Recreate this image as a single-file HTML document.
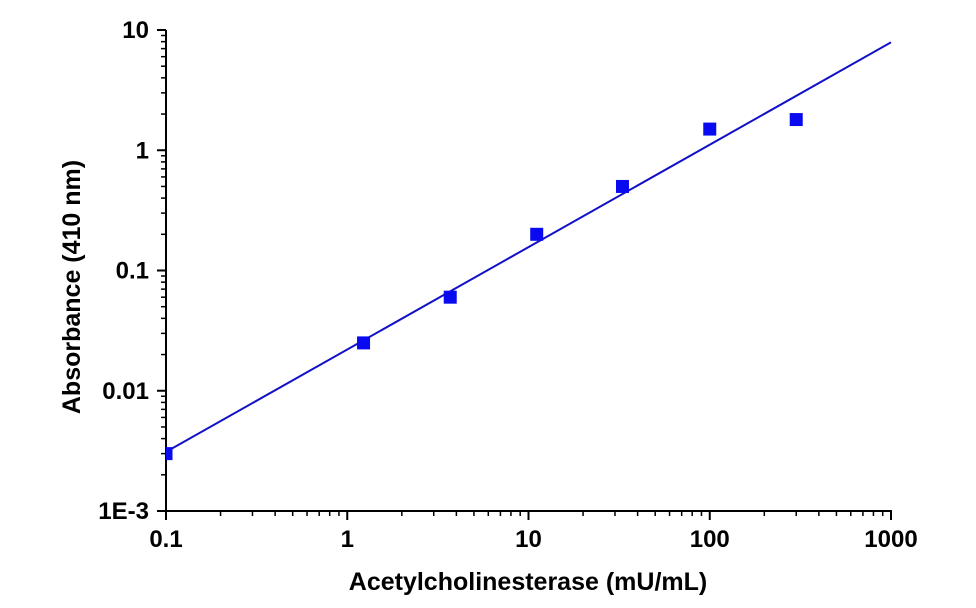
<!DOCTYPE html>
<html><head><meta charset="utf-8"><style>body{margin:0;background:#fff}svg{display:block}text{font-family:"Liberation Sans",Arial,sans-serif;font-weight:bold;fill:#000}</style></head>
<body>
<svg id="chart" width="976" height="608" viewBox="0 0 976 608">
<defs><clipPath id="pc"><rect x="166" y="30" width="726" height="481"/></clipPath></defs>
<g id="axes"></g>
<g id="marks" clip-path="url(#pc)"></g>
<text x="528" y="590" font-size="25" text-anchor="middle">Acetylcholinesterase (mU/mL)</text>
<text transform="translate(80,287) rotate(-90)" font-size="25" text-anchor="middle">Absorbance (410 nm)</text>
</svg>
<script>
const xValues=[0.1,1.23,3.7,11.1,33,100,300];
const yValues=[0.003,0.025,0.06,0.2,0.5,1.5,1.8];
const fitX=[0.1,1000];
const fitY=[0.0031,7.9];
const xTicks=[0.1,1,10,100,1000];
const xTickLabels=["0.1","1","10","100","1000"];
const yTicks=[0.001,0.01,0.1,1,10];
const yTickLabels=["1E-3","0.01","0.1","1","10"];
const X0=166,X1=891,Y0=511,Y1=30;
function sx(v){return X0+(Math.log10(v)+1)/4*(X1-X0);}
function sy(v){return Y0-(Math.log10(v)+3)/4*(Y0-Y1);}
const NS="http://www.w3.org/2000/svg";
function mk(t,a,p){const e=document.createElementNS(NS,t);for(const k in a)e.setAttribute(k,a[k]);p.appendChild(e);return e;}
const ax=document.getElementById('axes'),mg=document.getElementById('marks');
let e=mk('path',{d:`M${X0},${Y1}V${Y0}H${X1+1}`,stroke:'#000','stroke-width':2,fill:'none'},ax);


xTicks.forEach((v,i)=>{
 const x=sx(v);
 let t=mk('line',{x1:x,x2:x,y1:Y0,y2:Y0+9,stroke:'#000','stroke-width':2},ax);
 
 
 let l=mk('text',{x:x,y:Y0+36,'font-size':24,'text-anchor':'middle'},ax);l.textContent=xTickLabels[i];
 
 
 if(i<xTicks.length-1)for(let m=2;m<10;m++){const xm=sx(v*m);mk('line',{x1:xm,x2:xm,y1:Y0,y2:Y0+5,stroke:'#000','stroke-width':1.5},ax);}
});
yTicks.forEach((v,i)=>{
 const y=sy(v);
 let t=mk('line',{x1:X0-9,x2:X0,y1:y,y2:y,stroke:'#000','stroke-width':2},ax);
 
 
 let l=mk('text',{x:X0-17,y:y+8,'font-size':24,'text-anchor':'end'},ax);l.textContent=yTickLabels[i];
 
 
 if(i<yTicks.length-1)for(let m=2;m<10;m++){const ym=sy(v*m);mk('line',{x1:X0-5,x2:X0,y1:ym,y2:ym,stroke:'#000','stroke-width':1.5},ax);}
});
let fl=mk('line',{x1:sx(fitX[0]),y1:sy(fitY[0]),x2:sx(fitX[1]),y2:sy(fitY[1]),stroke:'#1010c8','stroke-width':2},mg);


xValues.forEach((v,i)=>{
 const p=mk('rect',{x:sx(v)-6.5,y:sy(yValues[i])-6.5,width:13,height:13,fill:'#0a0af0'},mg);
 
 
});
</script>
</body></html>
